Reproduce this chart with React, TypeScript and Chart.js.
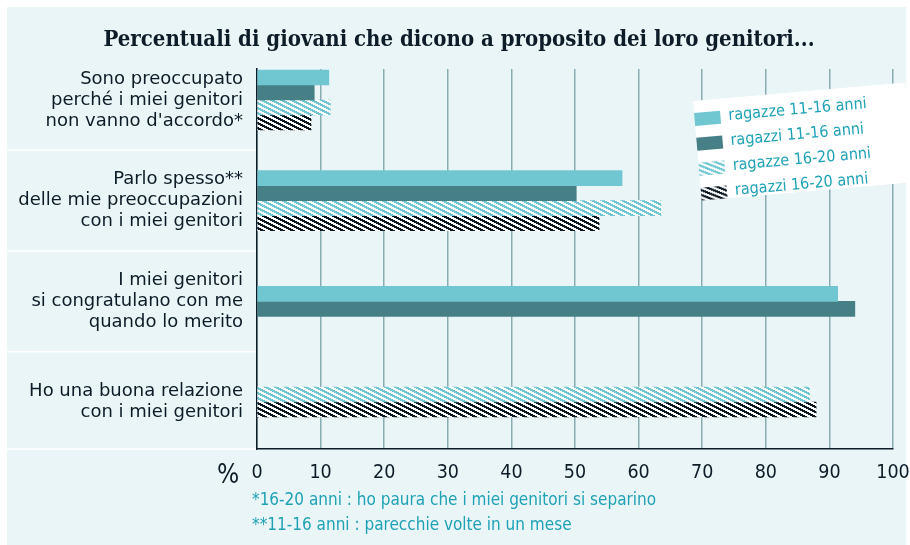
import React, { useEffect, useRef } from "react";
import { Chart, registerables } from "chart.js";

Chart.register(...registerables);

const titleText = "Percentuali di giovani che dicono a proposito dei loro genitori...";

const categories: string[][] = [
  ["Sono preoccupato", "perché i miei genitori", "non vanno d'accordo*"],
  ["Parlo spesso**", "delle mie preoccupazioni", "con i miei genitori"],
  ["I miei genitori", "si congratulano con me", "quando lo merito"],
  ["Ho una buona relazione", "con i miei genitori"],
];

const seriesLabels = [
  "ragazze 11-16 anni",
  "ragazzi 11-16 anni",
  "ragazze 16-20 anni",
  "ragazzi 16-20 anni",
];

const ragazze1116: (number | null)[] = [11.3, 57.4, 91.3, null];
const ragazzi1116: (number | null)[] = [9.0, 50.2, 94.0, null];
const ragazze1620: (number | null)[] = [11.5, 63.5, null, 86.9];
const ragazzi1620: (number | null)[] = [8.5, 53.8, null, 87.9];

const xTickValues = [0, 10, 20, 30, 40, 50, 60, 70, 80, 90, 100];
const axisUnit = "%";
const footnotes = [
  "*16-20 anni : ho paura che i miei genitori si separino",
  "**11-16 anni : parecchie volte in un mese",
];

const PANEL = "#eaf5f7";
const LIGHT = "#70c7d2";
const DARK = "#467f86";
const INK = "#0c1c28";
const TEAL_TEXT = "#1fa2b5";
const GRID = "#88acb3";
const NARROW = "'Liberation Sans Narrow', 'DejaVu Sans Condensed', sans-serif";
const LABEL_FONT = "'DejaVu Sans', 'Noto Sans', sans-serif";
const LEGEND_FONT = "'DejaVu Sans Condensed', 'Noto Sans', sans-serif";

function makeHatch(fg: string, bg: string, on: number): CanvasPattern | string {
  const c = document.createElement("canvas");
  c.width = 10;
  c.height = 5;
  const g = c.getContext("2d");
  if (!g) return fg;
  g.fillStyle = bg;
  g.fillRect(0, 0, 10, 5);
  g.fillStyle = fg;
  for (let y = 0; y < 5; y++) {
    for (let x = 0; x < 10; x++) {
      const m = (((x - 2 * y) % 10) + 10) % 10;
      if (m < on) g.fillRect(x, y, 1, 1);
    }
  }
  const p = g.createPattern(c, "repeat");
  return p || fg;
}

export default function App() {
  const ref = useRef<HTMLCanvasElement | null>(null);

  useEffect(() => {
    const canvas = ref.current;
    if (!canvas) return;
    const lightHatch = makeHatch(LIGHT, "#ffffff", 5);
    const darkHatch = makeHatch("#0b1821", "#ffffff", 5);

    const series = [ragazze1116, ragazzi1116, ragazze1620, ragazzi1620];
    const colors = [LIGHT, DARK, lightHatch, darkHatch];

    const decor = {
      id: "decor",
      afterLayout(chart: any) {
        const t = chart.titleBlock;
        if (t) t.left = 25;
      },
      beforeDraw(chart: any) {
        const ctx = chart.ctx;
        const area = chart.chartArea;
        const yScale = chart.scales.y;
        ctx.save();
        ctx.fillStyle = "#ffffff";
        ctx.fillRect(0, 0, chart.width, chart.height);
        ctx.fillStyle = PANEL;
        ctx.fillRect(7, 7, 899, 538);
        ctx.strokeStyle = "#ffffff";
        ctx.lineWidth = 1.5;
        const bounds = categories.slice(1).map((_, i) => yScale.getPixelForValue(i + 0.5));
        bounds.push(area.bottom);
        bounds.forEach((y: number) => {
          ctx.beginPath();
          ctx.moveTo(7, y);
          ctx.lineTo(area.left, y);
          ctx.stroke();
        });
        ctx.restore();
      },
      afterDraw(chart: any) {
        const ctx = chart.ctx;
        const area = chart.chartArea;
        ctx.save();
        // unit sign
        ctx.fillStyle = INK;
        ctx.font = `26px ${NARROW}`;
        ctx.textAlign = "center";
        ctx.textBaseline = "middle";
        ctx.fillText(axisUnit, area.left - 29, area.bottom + 27);
        // footnotes
        ctx.fillStyle = TEAL_TEXT;
        ctx.font = `17px ${NARROW}`;
        ctx.textAlign = "left";
        footnotes.forEach((t, i) => ctx.fillText(t, area.left - 5, area.bottom + 52 + i * 25));
        // legend (tilted card)
        ctx.translate(693, 101);
        ctx.rotate((-5 * Math.PI) / 180);
        ctx.fillStyle = "#ffffff";
        ctx.fillRect(0, 0, 213, 100);
        ctx.font = `16px ${LEGEND_FONT}`;
        ctx.textBaseline = "middle";
        chart.data.datasets.forEach((ds: any, i: number) => {
          const y = 12 + i * 25;
          ctx.fillStyle = ds.backgroundColor;
          ctx.fillRect(0, y, 26, 13);
          ctx.fillStyle = TEAL_TEXT;
          ctx.fillText(ds.label, 34, y + 6);
        });
        ctx.restore();
      },
    };

    const chart = new Chart(canvas, {
      type: "bar",
      data: {
        datasets: series.map((vals, si) => ({
          label: seriesLabels[si],
          data: vals.map((v, i) => ({ x: v, y: i })) as any,
          backgroundColor: colors[si] as any,
          borderWidth: 0,
          barThickness: 15,
          skipNull: true,
          grouped: true,
        })),
      },
      options: {
        indexAxis: "y",
        responsive: false,
        animation: false,
        devicePixelRatio: 1,
        layout: { padding: { left: 7, right: 17, top: 0, bottom: 56 } },
        plugins: {
          legend: { display: false },
          tooltip: { enabled: false },
          title: {
            display: true,
            text: titleText,
            color: INK,
            font: { family: "'DejaVu Serif Condensed', 'DejaVu Serif', serif", size: 22, weight: "bold", lineHeight: 1.2 },
            padding: { top: 27, bottom: 15.6 },
          },
        },
        scales: {
          x: {
            type: "linear",
            min: 0,
            max: 100,
            offset: false,
            afterBuildTicks: (s: any) => {
              s.ticks = xTickValues.map((v) => ({ value: v }));
            },
            ticks: {
              color: INK,
              font: { family: NARROW, size: 19.5 },
              padding: 12,
              autoSkip: false,
              maxRotation: 0,
            },
            grid: { color: GRID, lineWidth: 1.5, drawTicks: false, offset: false },
            border: { display: true, color: INK, width: 1.5 },
            afterFit: (s: any) => {
              s.height = 40;
              s.paddingLeft = 0;
              s.paddingRight = 0;
            },
          },
          y: {
            type: "linear",
            reverse: true,
            offset: false,
            bounds: "data",
            min: -0.308,
            max: 3.467,
            afterBuildTicks: (s: any) => {
              s.ticks = categories.map((_, i) => ({ value: i }));
            },
            ticks: {
              autoSkip: false,
              padding: 14,
              color: INK,
              font: { family: LABEL_FONT, size: 18, lineHeight: 1.17 },
              callback: (v: any) => categories[v as number],
            },
            grid: { display: false, drawTicks: false, offset: false },
            border: { display: true, color: INK, width: 1.5 },
            afterFit: (s: any) => {
              s.width = 250;
              s.paddingTop = 0;
              s.paddingBottom = 0;
            },
          },
        },
      } as any,
      plugins: [decor],
    });

    return () => chart.destroy();
  }, []);

  return (
    <div style={{ position: "fixed", left: 0, top: 0, width: 910, height: 545 }}>
      <canvas ref={ref} width={910} height={545} style={{ display: "block" }} />
    </div>
  );
}
